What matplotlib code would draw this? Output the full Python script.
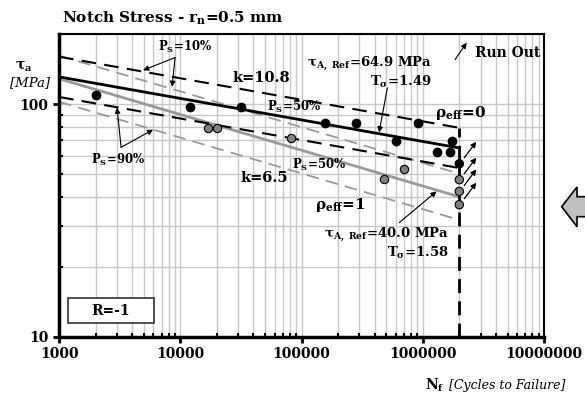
import matplotlib.pyplot as plt
import matplotlib.transforms as mtransforms
from matplotlib.patches import Rectangle, Polygon
from matplotlib.ticker import LogLocator, NullFormatter, FixedLocator, FixedFormatter

plt.rcParams['font.family'] = 'DejaVu Serif'
plt.rcParams['mathtext.fontset'] = 'dejavuserif'

# test data, rho_eff = 0 (black) and rho_eff = 1 (grey)
N_rho0 = [2000, 12000, 31500, 156000, 280000, 920000, 605000, 1730000, 1310000, 1680000]
tau_rho0 = [110, 97.5, 97.5, 83, 83, 83, 69.5, 69.5, 62.5, 62.5]
N_rho1 = [17000, 20000, 81500, 480000, 700000]
tau_rho1 = [79, 79, 71.5, 47.5, 52.5]

# run outs at 2e6 cycles
N_ro = [2000000, 2000000, 2000000, 2000000]
tau_ro = [55.5, 47.4, 42.2, 37.0]
col_ro = ['black', '#808080', '#808080', '#808080']

# scatter band end points (N = 1000 and N = 2e6)
line_N = [1000, 2000000]
rho0_p50 = [131.2, 64.9]
rho0_p10 = [160.2, 79.2]
rho0_p90 = [107.5, 53.2]
rho1_p50 = [128.8, 40.0]
rho1_p10 = [161.9, 50.3]
rho1_p90 = [102.5, 31.8]
N_knee = 2000000

xticks = [1000, 10000, 100000, 1000000, 10000000]
xlabels = ['1000', '10000', '100000', '1000000', '10000000']
yticks = [10, 100]
ylabels = ['10', '100']

fig = plt.figure(figsize=(5.85, 3.99), dpi=100)
ax = fig.add_axes([0.101, 0.156, 0.829, 0.758])
ax.set_xscale('log')
ax.set_yscale('log')
ax.set_xlim(1000, 10000000)
ax.set_ylim(10, 200)

ax.grid(True, which='both', color='#c8c8c8', lw=1.0, zorder=0)
ax.xaxis.set_major_locator(FixedLocator(xticks))
ax.xaxis.set_major_formatter(FixedFormatter(xlabels))
ax.yaxis.set_major_locator(FixedLocator(yticks))
ax.yaxis.set_major_formatter(FixedFormatter(ylabels))
ax.xaxis.set_minor_locator(LogLocator(base=10, subs=range(2, 10)))
ax.yaxis.set_minor_locator(LogLocator(base=10, subs=range(2, 10)))
ax.xaxis.set_minor_formatter(NullFormatter())
ax.yaxis.set_minor_formatter(NullFormatter())
ax.tick_params(which='major', direction='out', length=4, width=2, labelsize=10)
ax.tick_params(which='minor', direction='in', length=3, width=1.5)
for lab in ax.get_xticklabels() + ax.get_yticklabels():
    lab.set_fontweight('bold')
ax.spines['left'].set_linewidth(2.5)
ax.spines['bottom'].set_linewidth(2.5)
ax.spines['top'].set_linewidth(1.5)
ax.spines['right'].set_linewidth(1.5)

# scatter bands
ax.plot(line_N, rho1_p50, color='#999999', lw=2, zorder=2)
ax.plot(line_N, rho1_p10, color='#999999', lw=1.3, dashes=(7, 4), zorder=2)
ax.plot(line_N, rho1_p90, color='#999999', lw=1.3, dashes=(7, 4), zorder=2)
ax.plot(line_N, rho0_p50, color='black', lw=2, zorder=3)
ax.plot(line_N, rho0_p10, color='black', lw=1.5, dashes=(7, 4), zorder=3)
ax.plot(line_N, rho0_p90, color='black', lw=1.5, dashes=(7, 4), zorder=3)
ax.plot([N_knee, N_knee], [10, rho0_p10[1]], color='black', lw=2, dashes=(5, 3), zorder=3)

ax.plot(N_rho0, tau_rho0, 'o', color='black', ms=6, zorder=5)
ax.plot(N_rho1, tau_rho1, 'o', mfc='#808080', mec='black', mew=0.8, ms=6, zorder=5)
ax.scatter(N_ro, tau_ro, c=col_ro, edgecolors='black', linewidths=0.8, s=36, zorder=5)

# run out arrows
for n, t in zip(N_ro, tau_ro):
    tail = mtransforms.offset_copy(ax.transData, fig, x=5, y=6, units='dots')
    head = mtransforms.offset_copy(ax.transData, fig, x=17, y=22, units='dots')
    ax.annotate('', xy=(n, t), xycoords=head, xytext=(n, t), textcoords=tail,
                arrowprops=dict(arrowstyle='-|>', color='black', lw=0.9,
                                mutation_scale=8, shrinkA=0, shrinkB=0), zorder=6)

arw = dict(arrowstyle='-|>', color='black', lw=0.8, mutation_scale=8, shrinkA=0, shrinkB=0)

ax.annotate('', xy=(2.30e6, 184), xytext=(1.845e6, 155.8), arrowprops=arw)
ax.text(2.7e6, 167, 'Run Out', fontsize=10, fontweight='bold', va='center', ha='left')

ax.text(26700, 130.3, 'k=10.8', fontsize=10.5, fontweight='bold', va='center')
ax.text(31100, 48.3, 'k=6.5', fontsize=10.5, fontweight='bold', va='center')

ax.text(6550, 175.6, r'$\mathbf{P_S}$=10%', fontsize=8.5, fontweight='bold', va='center')
ax.annotate('', xy=(4930, 140.1), xytext=(9050, 158.9), arrowprops=arw)
ax.annotate('', xy=(8550, 118.9), xytext=(9050, 158.9), arrowprops=arw)

ax.text(1836, 57.8, r'$\mathbf{P_S}$=90%', fontsize=8.5, fontweight='bold', va='center')
ax.annotate('', xy=(3006, 96.8), xytext=(3246, 65.3), arrowprops=arw)
ax.annotate('', xy=(5963, 77.8), xytext=(3246, 65.3), arrowprops=arw)

ax.text(51950, 97.7, r'$\mathbf{P_S}$=50%', fontsize=8.5, fontweight='bold', va='center')
ax.text(82700, 55.0, r'$\mathbf{P_S}$=50%', fontsize=8.5, fontweight='bold', va='center')

ax.text(1.192e6, 149.8, r'$\mathbf{\tau_{A,\ Ref}}$=64.9 MPa', fontsize=9.5,
        fontweight='bold', ha='right', va='center')
ax.text(1.192e6, 125.3, r'$\mathbf{T_\sigma}$=1.49', fontsize=9.5,
        fontweight='bold', ha='right', va='center')
ax.annotate('', xy=(435800, 75.7), xytext=(510300, 117.7), arrowprops=arw)
ax.text(1.262e6, 92.1, r'$\mathbf{\rho_{eff}}$=0', fontsize=11, fontweight='bold', va='center')

ax.text(129200, 36.9, r'$\mathbf{\rho_{eff}}$=1', fontsize=11, fontweight='bold', va='center')
ax.text(1.646e6, 27.4, r'$\mathbf{\tau_{A,\ Ref}}$=40.0 MPa', fontsize=9.5,
        fontweight='bold', ha='right', va='center')
ax.text(1.646e6, 22.95, r'$\mathbf{T_\sigma}$=1.58', fontsize=9.5,
        fontweight='bold', ha='right', va='center')
ax.annotate('', xy=(1.298e6, 42.2), xytext=(640700, 31.0), arrowprops=arw)

# R box
ax.add_patch(Rectangle((0.018, 0.046), 0.1786, 0.0807, transform=ax.transAxes,
                       facecolor='white', edgecolor='#333333', lw=1.2, zorder=4))
ax.text(0.107, 0.0866, 'R=-1', transform=ax.transAxes, fontsize=10, fontweight='bold',
        ha='center', va='center', zorder=5)

# labels
fig.text(62 / 585, 1 - 18 / 399, r'Notch Stress - $\mathbf{r_n}$=0.5 mm', fontsize=11,
         fontweight='bold', ha='left', va='center')
fig.text(24 / 585, 1 - 67 / 399, r'$\mathbf{\tau_a}$', fontsize=10, ha='center', va='center')
fig.text(30 / 585, 1 - 83 / 399, '[MPa]', fontsize=9.5, style='italic', ha='center', va='center')
fig.text(425 / 585, 1 - 385 / 399, r'$\mathbf{N_f}$', fontsize=10, ha='left', va='center')
fig.text(565 / 585, 1 - 385 / 399, '[Cycles to Failure]', fontsize=9, style='italic',
         ha='right', va='center')

# block arrow on the right edge
fig.patches.append(Polygon([(561.7 / 585, 1 - 206.7 / 399), (577 / 585, 1 - 187 / 399),
                            (577 / 585, 1 - 196.7 / 399), (590 / 585, 1 - 196.7 / 399),
                            (590 / 585, 1 - 216.7 / 399), (577 / 585, 1 - 216.7 / 399),
                            (577 / 585, 1 - 226.7 / 399)],
                           closed=True, transform=fig.transFigure, facecolor='#c0c0c0',
                           edgecolor='black', lw=1.2))

fig.savefig('out.png', dpi=100)
